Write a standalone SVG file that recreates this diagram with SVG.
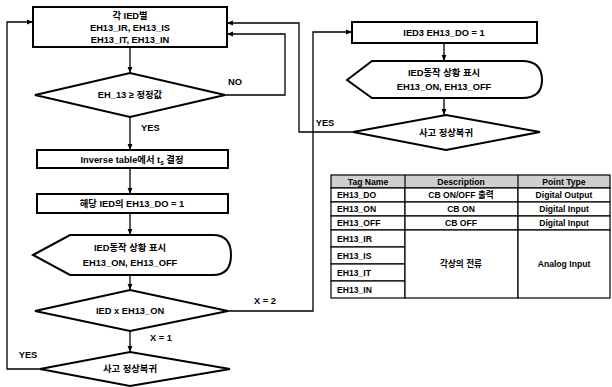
<svg xmlns="http://www.w3.org/2000/svg" width="612" height="387" viewBox="0 0 612 387">
<style>
.s{fill:#fff;stroke:#000;stroke-width:2}
.c{fill:none;stroke:#000;stroke-width:1.3}
text{font-family:"Liberation Sans","Noto Sans CJK KR",sans-serif;font-weight:bold;font-size:9.3px;fill:#000;text-anchor:middle}
.l{text-anchor:start}
.t{font-size:8.6px}
.tb{fill:#fff;stroke:#000;stroke-width:1.2}
.hd{fill:#cfcfcf;stroke:#000;stroke-width:1.2}
</style>
<defs>
<marker id="a" viewBox="0 0 10 10" refX="10" refY="5" markerWidth="6" markerHeight="6" orient="auto" markerUnits="userSpaceOnUse">
<path d="M0,1 L10,5 L0,9 Z" fill="#000"/>
</marker>
</defs>
<g id="connectors">
<line class="c" x1="130" y1="47" x2="130" y2="73" marker-end="url(#a)"/>
<polyline class="c" points="225,95 285,95 285,34 227,34" marker-end="url(#a)"/>
<line class="c" x1="130" y1="117" x2="130" y2="150" marker-end="url(#a)"/>
<line class="c" x1="130" y1="168" x2="130" y2="194" marker-end="url(#a)"/>
<line class="c" x1="130" y1="213" x2="130" y2="235" marker-end="url(#a)"/>
<line class="c" x1="130" y1="275" x2="130" y2="290" marker-end="url(#a)"/>
<polyline class="c" points="228,311 313,311 313,32 352,32" marker-end="url(#a)"/>
<line class="c" x1="130" y1="331" x2="130" y2="352" marker-end="url(#a)"/>
<polyline class="c" points="40,369 7,369 7,22 33,22" marker-end="url(#a)"/>
<line class="c" x1="444" y1="43" x2="444" y2="61" marker-end="url(#a)"/>
<line class="c" x1="444" y1="98" x2="444" y2="115" marker-end="url(#a)"/>
<polyline class="c" points="353,132 299,132 299,23 227,23" marker-end="url(#a)"/>
<text x="235" y="85">NO</text>
<text x="141" y="131" class="l">YES</text>
<text x="265" y="304">X = 2</text>
<text x="150" y="341" class="l">X = 1</text>
<text x="28" y="358">YES</text>
<text x="325" y="126">YES</text>
</g>
<g id="n1">
<rect class="s" x="33" y="7" width="194" height="40"/>
<text x="130" y="19">각 IED별</text>
<text x="130" y="31">EH13_IR, EH13_IS</text>
<text x="130" y="43">EH13_IT, EH13_IN</text>
</g>
<g id="n2">
<polygon class="s" points="35,95 130,73 225,95 130,117"/>
<text x="130" y="98">EH_13 ≥ 정정값</text>
</g>
<g id="n3">
<rect class="s" x="37" y="150" width="191" height="18"/>
<text x="132" y="162.5">Inverse table에서 t<tspan font-size="6.5" dy="2">s</tspan><tspan dy="-2"> 결정</tspan></text>
</g>
<g id="n4">
<rect class="s" x="37" y="194" width="191" height="19"/>
<text x="132" y="207">해당 IED의 EH13_DO = 1</text>
</g>
<g id="n5">
<path class="s" d="M33,255 L70,235 L213,235 Q231,235 231,255 Q231,275 213,275 L70,275 Z"/>
<text x="130" y="251">IED동작 상황 표시</text>
<text x="130" y="266">EH13_ON, EH13_OFF</text>
</g>
<g id="n6">
<polygon class="s" points="35,311 130,290 228,311 130,331"/>
<text x="130" y="314">IED x EH13_ON</text>
</g>
<g id="n7">
<polygon class="s" points="40,369 130,352 230,369 130,386"/>
<text x="130" y="372">사고 정상복귀</text>
</g>
<g id="n8">
<rect class="s" x="352" y="22" width="185" height="21"/>
<text x="444" y="36">IED3 EH13_DO = 1</text>
</g>
<g id="n9">
<path class="s" d="M347,80 L372,61 L522,61 Q542,61 542,80 Q542,98 522,98 L372,98 Z"/>
<text x="444" y="76">IED동작 상황 표시</text>
<text x="444" y="90">EH13_ON, EH13_OFF</text>
</g>
<g id="n10">
<polygon class="s" points="353,132 446,115 540,132 446,150"/>
<text x="446" y="135.5">사고 정상복귀</text>
</g>
<g id="table">
<rect class="hd" x="331" y="175" width="279" height="13"/>
<line class="tb" x1="405" y1="175" x2="405" y2="188"/>
<line class="tb" x1="518" y1="175" x2="518" y2="188"/>
<rect class="tb" x="331" y="188" width="74" height="14"/>
<rect class="tb" x="405" y="188" width="113" height="14"/>
<rect class="tb" x="518" y="188" width="92" height="14"/>
<rect class="tb" x="331" y="202" width="74" height="14"/>
<rect class="tb" x="405" y="202" width="113" height="14"/>
<rect class="tb" x="518" y="202" width="92" height="14"/>
<rect class="tb" x="331" y="216" width="74" height="14"/>
<rect class="tb" x="405" y="216" width="113" height="14"/>
<rect class="tb" x="518" y="216" width="92" height="14"/>
<rect class="tb" x="331" y="230" width="74" height="17"/>
<rect class="tb" x="331" y="247" width="74" height="17"/>
<rect class="tb" x="331" y="264" width="74" height="17"/>
<rect class="tb" x="331" y="281" width="74" height="17"/>
<rect class="tb" x="405" y="230" width="113" height="68"/>
<rect class="tb" x="518" y="230" width="92" height="68"/>
<text x="368" y="185" class="t">Tag Name</text>
<text x="461" y="185" class="t">Description</text>
<text x="564" y="185" class="t">Point Type</text>
<text x="337" y="198" class="l t">EH13_DO</text>
<text x="461" y="198" class="t">CB ON/OFF 출력</text>
<text x="564" y="198" class="t">Digital Output</text>
<text x="337" y="212" class="l t">EH13_ON</text>
<text x="461" y="212" class="t">CB ON</text>
<text x="564" y="212" class="t">Digital Input</text>
<text x="337" y="226" class="l t">EH13_OFF</text>
<text x="461" y="226" class="t">CB OFF</text>
<text x="564" y="226" class="t">Digital Input</text>
<text x="337" y="241.5" class="l t">EH13_IR</text>
<text x="337" y="258.5" class="l t">EH13_IS</text>
<text x="337" y="275.5" class="l t">EH13_IT</text>
<text x="337" y="292.5" class="l t">EH13_IN</text>
<text x="461" y="267" class="t">각상의 전류</text>
<text x="564" y="267" class="t">Analog Input</text>
</g>
</svg>
